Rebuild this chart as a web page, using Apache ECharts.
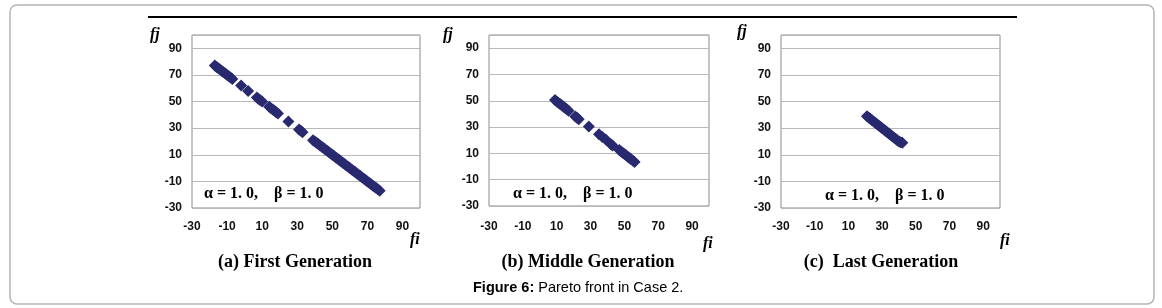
<!DOCTYPE html>
<html>
<head>
<meta charset="utf-8">
<script src="https://cdn.jsdelivr.net/npm/echarts@6/dist/echarts.min.js"></script>
<style>
html,body{margin:0;padding:0;background:#fff;}
#chart{width:1162px;height:308px;}
</style>
</head>
<body>
<div id="chart"></div>
<script>
// ---- data ----
const xTicks = [-30, -10, 10, 30, 50, 70, 90];
const yTicks = [-30, -10, 10, 30, 50, 70, 90];

const xFirst = [-17,-16,-15,-14,-13,-12,-11,-10,-9,-8,-7,-2,2,7,8,9,10,14,15,16,17,18,19,25,31,32,33,
  39,40,41,42,43,44,45,46,47,48,49,50,51,52,53,54,55,56,57,58,59,60,61,62,63,64,65,66,67,68,69,70,71,72,73,74,75,76,77];
const yFirst = [77,76,75,74,73,72,71,70,69,68,67,62,58,53,52,51,50,46,45,44,43,42,41,35,29,28,27,
  21,20,19,18,17,16,15,14,13,12,11,10,9,8,7,6,5,4,3,2,1,0,-1,-2,-3,-4,-5,-6,-7,-8,-9,-10,-11,-12,-13,-14,-15,-16,-17];

const xMiddle = [9,10,11,12,13,14,15,16,17,21,22,23,29,35,37,39,42,43,47,48,49,50,51,52,53,54,55,56];
const yMiddle = [50.5,49.5,48.5,47.5,46.5,45.5,44.5,43.5,42.5,38,37,36,30.5,24.5,22.5,20.5,17,16,12.5,11.5,10.5,9.5,8.5,7.5,6.5,5.5,4.5,3.5];

const xLast = [21,22,23,24,25,26,27,28,29,30,31,32,33,34,35,36,37,38,39,40,41,42];
const yLast = [39,38,37,36,35,34,33,32,31,30,29,28,27,26,25,24,23,22,21,20,19.5,19];

const panelTitles = ['(a) First Generation', '(b) Middle Generation', '(c)  Last Generation'];
const paramText = 'α = 1. 0,    β = 1. 0';
const figureLabel = 'Figure 6:';
const figureText = ' Pareto front in Case 2.';

// ---- layout ----
const grids = [
  {left:192, top:35, width:228, height:173, margin:13},
  {left:489, top:35, width:220, height:171, margin:15},
  {left:781, top:35, width:219, height:173, margin:13}
];
const dataSets = [[xFirst,yFirst],[xMiddle,yMiddle],[xLast,yLast]];
const navy = '#29296f';
const serif = '"Liberation Serif", "Times New Roman", serif';
const sans = '"Liberation Sans", Arial, sans-serif';

const chart = echarts.init(document.getElementById('chart'), null, {renderer:'canvas'});

const hideEnd = v => (v === 100 ? '' : String(v));

const option = {
  animation:false,
  grid: grids.map(g => ({left:g.left, top:g.top, width:g.width, height:g.height, show:true, borderColor:'#8a8a8a', borderWidth:1, backgroundColor:'transparent'})),
  xAxis: grids.map((g,i) => ({
    type:'value', gridIndex:i, min:-30, max:100, interval:20,
    axisLine:{show:false}, axisTick:{show:false}, splitLine:{show:false},
    axisLabel:{formatter:hideEnd, color:'#111', fontFamily:sans, fontWeight:'bold', fontSize:12, margin:g.margin, showMaxLabel:false}
  })),
  yAxis: grids.map((g,i) => ({
    type:'value', gridIndex:i, min:-30, max:100, interval:20,
    axisLine:{show:false}, axisTick:{show:false},
    splitLine:{show:true, lineStyle:{color:'#b8b8b8', width:1}},
    axisLabel:{formatter:hideEnd, color:'#111', fontFamily:sans, fontWeight:'bold', fontSize:12, margin:10, showMaxLabel:false}
  })),
  series: dataSets.map((d,i) => ({
    type:'scatter', xAxisIndex:i, yAxisIndex:i,
    symbol:'diamond', symbolSize:12,
    itemStyle:{color:navy, opacity:1},
    data: d[0].map((x,k) => [x, d[1][k]])
  })),
  graphic: []
};

const gfx = option.graphic;
// outer rounded frame
gfx.push({type:'rect', shape:{x:10, y:5, width:1144, height:299, r:7}, style:{fill:'none', stroke:'#b5b5b5', lineWidth:1.5}, z:0});
// top black rule
gfx.push({type:'rect', shape:{x:148, y:16, width:869, height:2}, style:{fill:'#000'}});

const fjPos = [[150,27],[443,27],[737,24]];
const fiPos = [[410,232],[703,236],[1000,233]];
const capX = [295, 588, 881];
const paramX = [204, 513, 825];
const paramY = [194, 194, 196];
grids.forEach((g,i) => {
  gfx.push({type:'text', left:fjPos[i][0], top:fjPos[i][1], style:{text:'fj', font:'italic bold 16px '+serif, fill:'#000'}});
  gfx.push({type:'text', left:fiPos[i][0], top:fiPos[i][1], style:{text:'fi', font:'italic bold 16px '+serif, fill:'#000'}});
  gfx.push({type:'text', x:capX[i], y:262, style:{text:panelTitles[i], font:'bold 18px '+serif, fill:'#000', align:'center', verticalAlign:'middle'}});
  gfx.push({type:'text', x:paramX[i], y:paramY[i], style:{text:paramText, font:'bold 16px '+serif, fill:'#000', align:'left', verticalAlign:'middle'}});
});
// figure caption
gfx.push({type:'text', x:473, y:288, style:{
  text:'{b|'+figureLabel+'}{r|'+figureText+'}',
  rich:{b:{font:'bold 14.5px '+sans, fill:'#000'}, r:{font:'14.5px '+sans, fill:'#000'}},
  verticalAlign:'middle', align:'left'}});

chart.setOption(option);
</script>
</body>
</html>
